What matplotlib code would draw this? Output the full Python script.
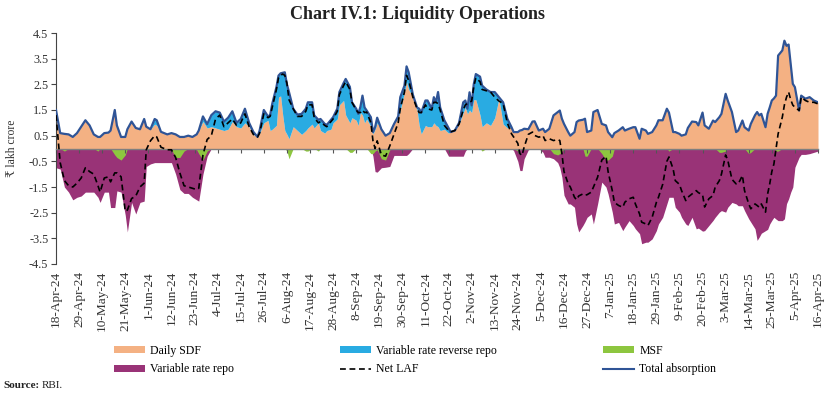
import numpy as np
import pandas as pd
import matplotlib
matplotlib.use("Agg")
import matplotlib.pyplot as plt
import matplotlib.dates as mdates
from matplotlib.patches import Patch
from matplotlib.lines import Line2D

# ---------------- data (₹ lakh crore) ----------------
# days since 18-Apr-2024
day_offset = [0, 2, 4, 6, 8, 10, 12, 14, 16, 18,
              20, 21, 23, 25, 26, 28, 29, 31, 33, 34,
              36, 38, 40, 42, 43, 45, 47, 48, 50, 53,
              55, 57, 59, 61, 63, 65, 67, 68, 70, 72,
              74, 76, 78, 80, 82, 84, 86, 88, 90, 92,
              94, 96, 97, 99, 101, 102, 103, 105, 106, 107,
              108, 109, 110, 111, 113, 115, 117, 119, 120, 122,
              123, 125, 126, 128, 129, 131, 132, 134, 135, 137,
              138, 140, 141, 143, 144, 145, 146, 147, 148, 150,
              151, 152, 153, 155, 157, 159, 161, 163, 164, 166,
              167, 168, 170, 172, 173, 174, 176, 177, 179, 180,
              181, 182, 183, 185, 187, 188, 190, 192, 194, 195,
              196, 197, 198, 199, 200, 202, 203, 205, 207, 209,
              211, 213, 215, 217, 218, 220, 221, 222, 223, 225,
              227, 228, 230, 232, 233, 235, 237, 239, 240, 241,
              242, 244, 245, 247, 248, 249, 251, 252, 253, 255,
              256, 258, 260, 262, 263, 265, 266, 268, 270, 271,
              273, 275, 276, 278, 279, 281, 282, 284, 286, 287,
              289, 291, 292, 294, 295, 297, 298, 300, 301, 303,
              305, 306, 308, 309, 311, 313, 314, 316, 317, 319,
              320, 322, 324, 325, 327, 328, 330, 331, 333, 334,
              335, 336, 338, 339, 340, 341, 342, 343, 344, 346,
              347, 348, 349, 350, 351, 352, 354, 355, 357, 359,
              361, 363]

total_absorption = [1.50, 0.60, 0.57, 0.55, 0.45, 0.60, 0.85, 1.10, 0.90, 0.55,
                    0.45, 0.45, 0.60, 0.62, 0.70, 1.50, 0.90, 0.45, 0.45, 0.75,
                    1.05, 0.80, 0.75, 1.15, 0.85, 0.75, 1.15, 1.10, 0.65, 0.55,
                    0.60, 0.55, 0.45, 0.45, 0.50, 0.45, 0.55, 0.70, 1.25, 0.95,
                    1.30, 1.45, 1.40, 1.05, 1.20, 1.45, 1.00, 1.15, 1.55, 1.00,
                    0.65, 0.45, 0.70, 1.50, 1.25, 1.30, 1.74, 2.39, 2.84, 2.93,
                    2.95, 2.97, 2.50, 2.20, 1.55, 1.32, 1.35, 1.55, 1.80, 1.80,
                    1.29, 1.12, 1.15, 0.96, 0.92, 1.12, 1.22, 1.55, 2.20, 2.55,
                    2.71, 2.40, 1.80, 1.55, 1.35, 1.62, 2.06, 1.60, 1.48, 1.22,
                    0.64, 0.83, 1.20, 0.75, 0.50, 0.60, 0.95, 1.25, 2.00, 2.45,
                    3.20, 2.97, 2.10, 1.60, 1.55, 1.40, 1.87, 1.87, 1.55, 2.00,
                    1.80, 2.20, 1.60, 1.10, 0.80, 0.64, 0.70, 1.00, 1.80, 1.87,
                    1.55, 2.19, 1.68, 2.50, 2.90, 2.80, 2.45, 2.30, 2.20, 2.20,
                    2.00, 1.80, 1.16, 0.83, 0.64, 0.64, 0.70, 0.72, 0.77, 0.75,
                    1.05, 1.06, 0.70, 0.77, 0.64, 0.77, 1.29, 1.42, 1.48, 1.16,
                    0.96, 0.64, 0.50, 0.64, 1.03, 1.09, 1.12, 1.16, 0.64, 0.70,
                    1.42, 1.50, 0.96, 0.90, 0.64, 0.44, 0.60, 0.70, 0.83, 0.70,
                    0.77, 0.83, 0.83, 0.38, 0.77, 0.70, 0.57, 0.64, 0.90, 1.10,
                    1.10, 1.55, 1.40, 0.64, 0.64, 0.57, 0.50, 0.55, 0.80, 1.05,
                    1.03, 0.90, 1.40, 0.90, 0.77, 1.09, 1.03, 1.22, 1.35, 2.13,
                    1.87, 1.42, 0.64, 0.70, 1.09, 0.83, 0.70, 0.96, 1.30, 1.42,
                    1.29, 1.35, 0.83, 1.35, 1.60, 1.87, 1.95, 2.06, 3.62, 3.82,
                    4.20, 4.00, 4.05, 3.30, 2.52, 2.39, 1.48, 2.06, 1.94, 2.00,
                    1.87, 1.80]

daily_sdf = [1.35, 0.60, 0.57, 0.55, 0.45, 0.60, 0.85, 1.10, 0.90, 0.55,
             0.45, 0.45, 0.60, 0.62, 0.70, 1.50, 0.90, 0.45, 0.45, 0.75,
             1.05, 0.80, 0.75, 1.15, 0.85, 0.75, 0.95, 0.90, 0.65, 0.55,
             0.60, 0.55, 0.45, 0.45, 0.50, 0.45, 0.55, 0.70, 1.05, 0.80,
             0.85, 0.80, 0.75, 0.70, 0.75, 1.05, 0.85, 0.80, 1.00, 0.85,
             0.55, 0.45, 0.60, 1.00, 1.10, 0.70, 0.75, 0.90, 2.00, 2.05,
             1.30, 0.70, 0.55, 0.38, 0.85, 0.70, 0.55, 0.70, 0.80, 0.95,
             0.80, 1.00, 0.70, 0.60, 0.70, 0.75, 1.00, 1.15, 1.70, 1.87,
             1.30, 1.00, 1.20, 1.10, 0.90, 1.40, 1.30, 1.00, 1.15, 0.85,
             0.57, 0.75, 1.00, 0.75, 0.50, 0.60, 0.95, 1.20, 1.50, 2.20,
             2.60, 2.30, 2.00, 1.50, 0.90, 0.57, 0.90, 0.85, 0.85, 1.00,
             0.90, 0.85, 0.70, 0.75, 0.60, 0.64, 0.70, 0.95, 1.40, 1.60,
             1.35, 1.50, 1.40, 1.90, 1.90, 1.30, 0.85, 1.00, 0.90, 1.20,
             1.95, 0.95, 0.80, 0.83, 0.64, 0.64, 0.70, 0.72, 0.77, 0.75,
             1.05, 1.06, 0.70, 0.77, 0.64, 0.77, 1.29, 1.42, 1.48, 1.16,
             0.96, 0.64, 0.50, 0.64, 1.03, 1.09, 1.12, 1.16, 0.64, 0.70,
             1.42, 1.50, 0.96, 0.90, 0.64, 0.44, 0.60, 0.70, 0.83, 0.70,
             0.77, 0.83, 0.83, 0.38, 0.77, 0.70, 0.57, 0.64, 0.90, 1.10,
             1.10, 1.55, 1.40, 0.64, 0.64, 0.57, 0.50, 0.55, 0.80, 1.05,
             1.03, 0.90, 1.40, 0.90, 0.77, 1.09, 1.03, 1.22, 1.35, 2.13,
             1.87, 1.42, 0.64, 0.70, 1.09, 0.83, 0.70, 0.96, 1.30, 1.42,
             1.29, 1.35, 0.83, 1.35, 1.60, 1.87, 1.95, 2.06, 3.62, 3.82,
             4.20, 4.00, 4.05, 3.30, 2.52, 2.39, 1.48, 2.06, 1.94, 2.00,
             1.87, 1.80]

# injection (plotted below zero)
variable_rate_repo = [0.75, 0.80, 1.50, 1.70, 2.00, 1.90, 1.85, 1.70, 1.70, 1.70,
                      1.90, 2.10, 1.70, 1.70, 2.30, 2.30, 1.65, 1.70, 2.60, 3.25,
                      2.10, 2.55, 2.10, 2.05, 0.70, 0.60, 0.55, 0.55, 0.55, 0.55,
                      0.55, 1.00, 1.60, 1.75, 1.75, 1.90, 2.00, 2.05, 1.00, 0.30,
                      0, 0, 0, 0, 0, 0, 0, 0, 0, 0,
                      0, 0, 0, 0, 0, 0, 0, 0, 0, 0,
                      0, 0, 0, 0, 0, 0, 0, 0, 0, 0,
                      0, 0, 0, 0, 0, 0, 0, 0, 0, 0,
                      0, 0, 0, 0, 0, 0, 0, 0, 0, 0,
                      0.30, 0.90, 0.92, 0.75, 0.73, 0.70, 0.27, 0.27, 0.27, 0.27,
                      0.27, 0.20, 0, 0, 0, 0, 0, 0, 0, 0,
                      0, 0, 0, 0, 0.30, 0.30, 0.30, 0.30, 0.30, 0.10,
                      0, 0, 0, 0, 0, 0, 0, 0, 0, 0,
                      0, 0, 0, 0, 0.08, 0.50, 0.86, 0.86, 0.40, 0.05,
                      0, 0, 0, 0.15, 0.34, 0.34, 0.40, 0.55, 0.75, 1.12,
                      1.82, 2.16, 2.16, 2.29, 2.94, 3.25, 3.00, 2.85, 2.68, 2.55,
                      2.94, 2.16, 1.31, 1.50, 1.77, 2.48, 2.94, 2.88, 3.20, 3.06,
                      2.81, 3.00, 3.13, 3.32, 3.71, 3.65, 3.65, 3.52, 3.20, 2.94,
                      2.68, 2.16, 1.90, 1.90, 2.29, 2.48, 2.68, 2.94, 3.00, 2.68,
                      3.13, 3.10, 3.22, 3.20, 3.00, 2.80, 2.68, 2.48, 2.42, 2.48,
                      2.29, 2.10, 2.16, 2.23, 2.23, 2.42, 2.74, 2.87, 3.13, 3.58,
                      3.45, 3.30, 3.20, 3.15, 2.94, 2.80, 2.68, 2.75, 2.81, 2.81,
                      2.74, 2.15, 1.96, 1.70, 1.50, 0.73, 0.34, 0.23, 0.23, 0.20,
                      0.15, 0.10]

msf = [0, 0, 0.10, 0, 0, 0, 0, 0, 0, 0,
       0.10, 0, 0, 0, 0, 0.25, 0.35, 0.45, 0.25, 0,
       0, 0, 0, 0, 0, 0, 0, 0, 0, 0,
       0.05, 0.35, 0.35, 0.10, 0, 0, 0.05, 0.20, 0.45, 0.10,
       0, 0, 0, 0, 0, 0, 0, 0, 0, 0,
       0, 0, 0, 0, 0, 0, 0, 0, 0, 0,
       0, 0, 0.10, 0.40, 0, 0, 0, 0.10, 0.10, 0,
       0, 0.10, 0, 0, 0, 0, 0, 0, 0, 0,
       0, 0.15, 0.15, 0, 0, 0, 0, 0, 0, 0.20,
       0.20, 0.10, 0.05, 0.40, 0.45, 0.05, 0, 0, 0, 0,
       0, 0, 0, 0, 0, 0, 0, 0, 0, 0,
       0, 0, 0, 0, 0, 0, 0, 0, 0, 0,
       0, 0, 0, 0, 0, 0, 0.10, 0, 0, 0,
       0, 0, 0, 0, 0, 0.10, 0.05, 0, 0, 0,
       0, 0, 0, 0, 0, 0, 0.20, 0.25, 0.20, 0.10,
       0, 0, 0, 0, 0, 0, 0, 0.30, 0.30, 0,
       0, 0, 0.20, 0.45, 0.45, 0.30, 0, 0, 0, 0,
       0, 0, 0, 0, 0, 0, 0, 0, 0, 0,
       0, 0, 0.10, 0, 0, 0, 0, 0, 0, 0,
       0, 0, 0, 0, 0, 0, 0, 0.15, 0.15, 0.10,
       0, 0, 0, 0, 0, 0, 0.20, 0.15, 0, 0,
       0, 0, 0, 0, 0, 0, 0, 0.10, 0.10, 0,
       0, 0, 0, 0, 0, 0, 0, 0, 0, 0,
       0, 0]

net_laf = [1.30, -0.55, -1.25, -1.45, -1.50, -1.35, -1.15, -0.75, -0.90, -1.00,
           -1.45, -1.70, -1.15, -1.10, -1.30, -0.95, -0.95, -1.10, -2.45, -2.40,
           -1.95, -1.85, -1.50, -1.35, -0.05, 0.30, 0.50, 0.45, 0.05, -0.05,
           -0.05, -0.35, -0.95, -1.45, -1.50, -1.55, -1.60, -1.55, -0.25, 0.35,
           0.50, 1.15, 1.30, 0.85, 1.00, 1.15, 0.90, 1.00, 1.35, 0.85,
           0.55, 0.45, 0.60, 1.35, 1.20, 1.25, 1.60, 2.30, 2.75, 2.85,
           2.90, 2.85, 2.55, 1.90, 1.55, 1.25, 1.25, 1.45, 1.70, 1.70,
           1.20, 1.00, 1.05, 0.90, 0.85, 1.05, 1.15, 1.45, 2.10, 2.45,
           2.60, 2.30, 1.80, 1.50, 1.40, 1.40, 1.50, 1.40, 1.42, 1.00,
           0.30, 0.00, 0.30, -0.25, -0.30, 0.10, 0.55, 1.00, 1.55, 2.20,
           2.85, 2.65, 2.00, 1.55, 1.40, 1.40, 1.70, 1.55, 1.50, 1.80,
           1.80, 1.75, 1.50, 0.90, 0.70, 0.65, 0.70, 0.95, 1.50, 1.70,
           1.75, 1.80, 1.85, 2.40, 2.75, 2.60, 2.30, 2.25, 2.20, 2.00,
           1.85, 1.75, 1.00, 0.57, 0.45, 0.20, -0.20, -0.27, 0.05, 0.55,
           0.64, 0.51, 0.44, 0.50, 0.31, 0.38, 0.31, 0.35, 0.31, -0.20,
           -0.90, -1.38, -1.50, -1.90, -2.00, -1.85, -1.77, -1.82, -1.80, -1.70,
           -1.51, -1.12, -0.45, -0.30, -0.90, -1.64, -2.10, -2.22, -2.29, -2.09,
           -1.96, -1.90, -2.16, -2.55, -2.87, -2.94, -3.00, -2.68, -2.10, -1.90,
           -1.40, -0.50, -0.33, -0.80, -1.25, -1.40, -1.64, -2.03, -1.90, -1.77,
           -1.64, -1.72, -1.80, -2.28, -1.96, -1.83, -1.51, -1.25, -1.00, -0.25,
           -0.45, -1.20, -1.38, -1.38, -1.05, -1.64, -2.16, -2.35, -2.16, -2.22,
           -2.29, -2.16, -2.48, -1.77, -1.38, -0.90, -0.60, 0.00, 0.57, 1.22,
           1.70, 2.00, 2.20, 1.90, 1.69, 1.61, 1.48, 2.00, 1.87, 1.80,
           1.80, 1.74]

tick_labels = ['18-Apr-24', '29-Apr-24', '10-May-24', '21-May-24', '1-Jun-24',
               '12-Jun-24', '23-Jun-24', '4-Jul-24', '15-Jul-24', '26-Jul-24',
               '6-Aug-24', '17-Aug-24', '28-Aug-24', '8-Sep-24', '19-Sep-24',
               '30-Sep-24', '11-Oct-24', '22-Oct-24', '2-Nov-24', '13-Nov-24',
               '24-Nov-24', '5-Dec-24', '16-Dec-24', '27-Dec-24', '7-Jan-25',
               '18-Jan-25', '29-Jan-25', '9-Feb-25', '20-Feb-25', '3-Mar-25',
               '14-Mar-25', '25-Mar-25', '5-Apr-25', '16-Apr-25']
y_ticks = [-4.5, -3.5, -2.5, -1.5, -0.5, 0.5, 1.5, 2.5, 3.5, 4.5]

n = len(day_offset)
for arr in (total_absorption, daily_sdf, variable_rate_repo, msf, net_laf):
    assert len(arr) == n, len(arr)

# ---------------- plotting ----------------
plt.rcParams['font.family'] = ['Liberation Serif', 'DejaVu Serif', 'DejaVu Sans']

C_SDF = '#F4B183'
C_VRRR = '#29ABE2'
C_MSF = '#8DC63F'
C_REPO = '#993377'
C_TOTAL = '#2F5496'

start = pd.Timestamp('2024-04-18')
dates = mdates.date2num(start + pd.to_timedelta(day_offset, unit='D'))
tick_pos = mdates.date2num(pd.to_datetime(tick_labels, format='%d-%b-%y'))

sdf = np.array(daily_sdf)
tot = np.array(total_absorption)
repo = np.array(variable_rate_repo)
msf_a = np.array(msf)
net = np.array(net_laf)

fig = plt.figure(figsize=(8.3, 3.93), dpi=100)
ax = fig.add_axes([56 / 830, 1 - 264 / 393, (818 - 56) / 830, (264 - 33) / 393])

ax.fill_between(dates, 0, sdf, color=C_SDF, lw=0, zorder=1)
ax.fill_between(dates, sdf, tot, color=C_VRRR, lw=0, zorder=1)
ax.fill_between(dates, 0, -repo, color=C_REPO, lw=0, zorder=1)
ax.fill_between(dates, 0, -msf_a, color=C_MSF, lw=0, zorder=1.2)
ax.plot(dates, tot, color=C_TOTAL, lw=1.6, zorder=3)
ax.plot(dates, net, color='black', lw=1.2, dashes=(3.5, 2.2), zorder=4)

ax.set_xlim(dates[0], dates[-1])
ax.set_ylim(-4.5, 4.5)

for s in ('top', 'right'):
    ax.spines[s].set_visible(False)
ax.spines['left'].set_color('#444444')
ax.spines['left'].set_linewidth(0.8)
ax.spines['bottom'].set_position(('data', 0))
ax.spines['bottom'].set_color('#7f7f7f')
ax.spines['bottom'].set_linewidth(1.0)
ax.spines['bottom'].set_zorder(2.5)

ax.set_yticks(y_ticks)
ax.set_yticklabels([f'{v:.1f}' for v in y_ticks])
ax.tick_params(axis='y', direction='out', length=3.5, width=0.8, color='#444444',
               labelsize=8.8, labelcolor='#333333', pad=2)
ax.set_xticks(tick_pos)
ax.tick_params(axis='x', direction='out', length=3, width=0.8, color='#555555',
               labelbottom=False)

sec = ax.secondary_xaxis(0)
sec.set_xticks(tick_pos)
sec.set_xticklabels(tick_labels, rotation=90, fontsize=9.6, color='#333333')
sec.tick_params(length=0, pad=5)
sec.spines['bottom'].set_visible(False)

fig.text(0.503, 0.962, 'Chart IV.1: Liquidity Operations', ha='center', va='center',
         fontsize=13, fontweight='bold', color='#222222')
fig.text(12 / 830, 1 - 148 / 393, '₹ lakh crore', rotation=90, ha='center', va='center',
         fontsize=8.4, color='#333333')

handles = [Patch(facecolor=C_SDF, edgecolor='none'),
           Patch(facecolor=C_REPO, edgecolor='none'),
           Patch(facecolor=C_VRRR, edgecolor='none'),
           Line2D([], [], color='black', lw=1.2, dashes=(3.5, 2.2)),
           Patch(facecolor=C_MSF, edgecolor='none'),
           Line2D([], [], color=C_TOTAL, lw=1.5)]
labels = ['Daily SDF', 'Variable rate repo', 'Variable rate reverse repo', 'Net LAF',
          'MSF', 'Total absorption']
fig.legend(handles, labels, ncol=3, loc='upper left',
           bbox_to_anchor=(114 / 830, 1 - 345 / 393), frameon=False,
           fontsize=8.5, handlelength=2.6, handleheight=0.55, handletextpad=0.45,
           columnspacing=9.0, labelspacing=0.55, borderpad=0, borderaxespad=0)

fig.text(3 / 830, 1 - 385 / 393, 'Source:', fontweight='bold', fontsize=8,
         va='center', ha='left', color='#222222')
fig.text(42 / 830, 1 - 385 / 393, 'RBI.', fontsize=8, va='center', ha='left',
         color='#222222')

fig.savefig('out.png', dpi=100)
